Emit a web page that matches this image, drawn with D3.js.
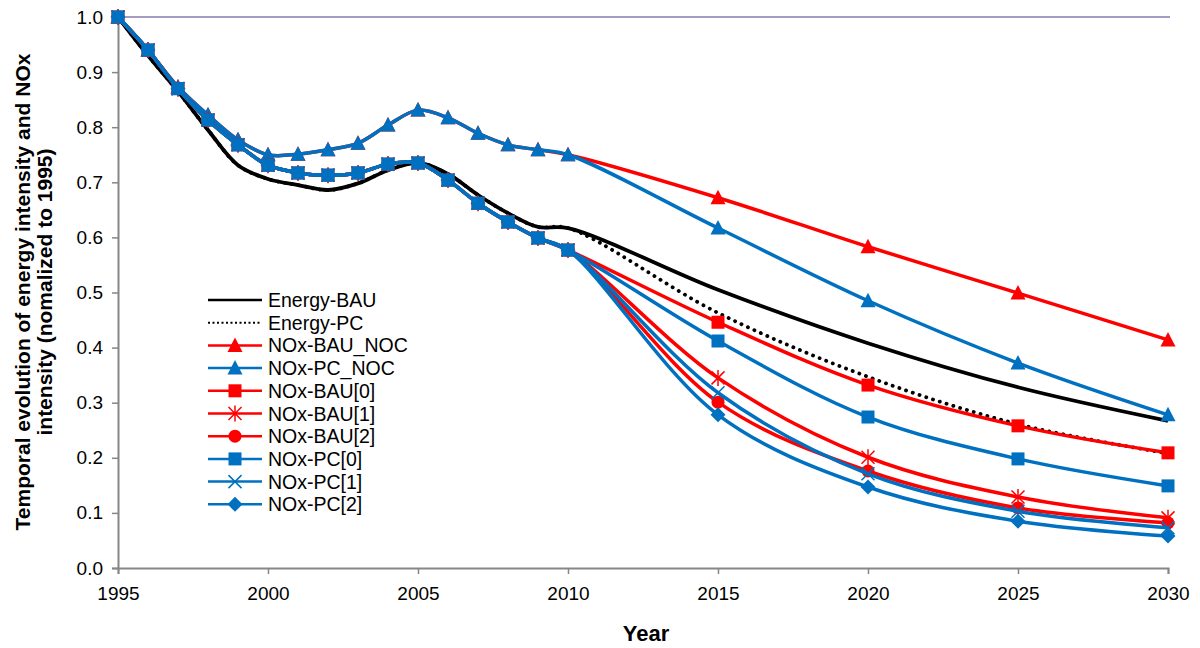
<!DOCTYPE html>
<html>
<head>
<meta charset="utf-8">
<script src="https://cdn.jsdelivr.net/npm/d3@7"></script>
<style>
  body { margin: 0; background: #fff; }
  svg { display: block; font-family: "Liberation Sans", Arial, sans-serif; }
</style>
</head>
<body>
<svg id="chart" width="1200" height="648"></svg>
<script>
// Years: annual 1995-2010, then five-year steps to 2030
const years = [1995,1996,1997,1998,1999,2000,2001,2002,2003,2004,2005,2006,2007,2008,2009,2010,2015,2020,2025,2030];

// Shared history 1995-2010
const energyHist = [1.0,0.93,0.865,0.795,0.731,0.706,0.695,0.686,0.698,0.722,0.735,0.715,0.677,0.644,0.619,0.617];
const nocHist    = [1.0,0.94,0.873,0.822,0.777,0.750,0.751,0.759,0.771,0.804,0.831,0.817,0.789,0.768,0.759,0.750];
const noxHist    = [1.0,0.94,0.870,0.813,0.768,0.731,0.717,0.713,0.717,0.733,0.735,0.704,0.662,0.628,0.599,0.577];

// Projections 2015-2030
const energyBAU  = energyHist.concat([0.505,0.408,0.328,0.267]);
const energyPC   = energyHist.concat([0.463,0.347,0.261,0.208]);
const noxBAU_NOC = nocHist.concat([0.672,0.583,0.499,0.414]);
const noxPC_NOC  = nocHist.concat([0.617,0.485,0.372,0.278]);
const noxBAU0    = noxHist.concat([0.446,0.332,0.258,0.209]);
const noxBAU1    = noxHist.concat([0.345,0.201,0.129,0.091]);
const noxBAU2    = noxHist.concat([0.301,0.176,0.109,0.082]);
const noxPC0     = noxHist.concat([0.412,0.274,0.198,0.149]);
const noxPC1     = noxHist.concat([0.318,0.171,0.103,0.073]);
const noxPC2     = noxHist.concat([0.278,0.147,0.085,0.058]);

const xTicks = [1995,2000,2005,2010,2015,2020,2025,2030];
const yTicks = [0,0.1,0.2,0.3,0.4,0.5,0.6,0.7,0.8,0.9,1.0];

const RED = "#ff0000", BLUE = "#0070c0";

const series = [
  {name:"Energy-BAU",  values:energyBAU,  color:"#000", marker:null, dash:null},
  {name:"Energy-PC",   values:energyPC,   color:"#000", marker:null, dash:"0.1 7"},
  {name:"NOx-BAU_NOC", values:noxBAU_NOC, color:RED,  marker:"triangle"},
  {name:"NOx-PC_NOC",  values:noxPC_NOC,  color:BLUE, marker:"triangle"},
  {name:"NOx-BAU[0]",  values:noxBAU0,    color:RED,  marker:"square"},
  {name:"NOx-BAU[1]",  values:noxBAU1,    color:RED,  marker:"star"},
  {name:"NOx-BAU[2]",  values:noxBAU2,    color:RED,  marker:"circle"},
  {name:"NOx-PC[0]",   values:noxPC0,     color:BLUE, marker:"square"},
  {name:"NOx-PC[1]",   values:noxPC1,     color:BLUE, marker:"x"},
  {name:"NOx-PC[2]",   values:noxPC2,     color:BLUE, marker:"diamond"}
];

const svg = d3.select("#chart");
const x = d3.scaleLinear().domain([1995,2030]).range([118,1168]);
const y = d3.scaleLinear().domain([0,1]).range([568,17]);

// Top border of plot area
svg.append("line").attr("x1",118).attr("x2",1170).attr("y1",y(1)).attr("y2",y(1))
  .attr("stroke","#a49cc2").attr("stroke-width",2);

// Axes
const xAxis = svg.append("g").attr("transform",`translate(0,${y(0)})`)
  .call(d3.axisBottom(x).tickValues(xTicks).tickFormat(d3.format("d")).tickSizeOuter(0).tickSize(6).tickPadding(13));
const yAxis = svg.append("g").attr("transform",`translate(${x(1995)},0)`)
  .call(d3.axisLeft(y).tickValues(yTicks).tickFormat(d3.format(".1f")).tickSizeOuter(0).tickSize(6).tickPadding(9));
[xAxis,yAxis].forEach(a => {
  a.select(".domain").attr("stroke","#868686").attr("stroke-width",2);
  a.selectAll(".tick line").attr("stroke","#868686").attr("stroke-width",1.5);
  a.selectAll(".tick text").attr("fill","#000").style("font-size","19px")
    .style("font-family","'Liberation Sans', Arial, sans-serif");
});

// Axis titles
svg.append("text").attr("x",646).attr("y",641).attr("text-anchor","middle")
  .style("font-size","22px").style("font-weight","bold").text("Year");
const yt = svg.append("text").attr("transform","translate(0,292) rotate(-90)")
  .attr("text-anchor","middle").style("font-size","21px").style("font-weight","bold");
yt.append("tspan").attr("x",0).attr("y",30).text("Temporal evolution of energy intensity and NOx");
yt.append("tspan").attr("x",0).attr("y",52).text("intensity (nomalized to 1995)");

// Marker drawing
function drawMarker(g, type, color, cx, cy) {
  const s = 7;
  if (type === "triangle") {
    g.append("path").attr("d",`M${cx},${cy-s-1}L${cx+s+0.5},${cy+s-0.5}L${cx-s-0.5},${cy+s-0.5}Z`).attr("fill",color);
  } else if (type === "square") {
    g.append("rect").attr("x",cx-6.5).attr("y",cy-6.5).attr("width",13).attr("height",13).attr("fill",color);
  } else if (type === "circle") {
    g.append("circle").attr("cx",cx).attr("cy",cy).attr("r",6.5).attr("fill",color);
  } else if (type === "diamond") {
    g.append("path").attr("d",`M${cx},${cy-7.5}L${cx+7.5},${cy}L${cx},${cy+7.5}L${cx-7.5},${cy}Z`).attr("fill",color);
  } else if (type === "x") {
    g.append("path").attr("d",`M${cx-6.5},${cy-6.5}L${cx+6.5},${cy+6.5}M${cx-6.5},${cy+6.5}L${cx+6.5},${cy-6.5}`)
      .attr("stroke",color).attr("stroke-width",1.5);
  } else if (type === "star") {
    g.append("path").attr("d",`M${cx-6.5},${cy-6.5}L${cx+6.5},${cy+6.5}M${cx-6.5},${cy+6.5}L${cx+6.5},${cy-6.5}M${cx},${cy-8}L${cx},${cy+8}`)
      .attr("stroke",color).attr("stroke-width",1.5);
  }
}

const line = d3.line().x((d,i) => x(years[i])).y(d => y(d)).curve(d3.curveCatmullRom.alpha(0.5));

const plot = svg.append("g");
series.forEach(s => {
  const g = plot.append("g");
  g.append("path").attr("d", line(s.values)).attr("fill","none")
    .attr("stroke", s.color).attr("stroke-width", s.marker ? 3.5 : 3.8)
    .attr("stroke-linecap", s.dash ? "round" : "butt")
    .attr("stroke-dasharray", s.dash);
  if (s.marker) s.values.forEach((v,i) => drawMarker(g, s.marker, s.color, x(years[i]), y(v)));
});

// Legend
const lg = svg.append("g");
series.forEach((s,i) => {
  const ly = 300 + i*22.7;
  lg.append("line").attr("x1",208).attr("x2",262).attr("y1",ly).attr("y2",ly)
    .attr("stroke",s.color).attr("stroke-width", s.dash ? 2 : 2.5)
    .attr("stroke-dasharray", s.dash ? "2 2.5" : null);
  if (s.marker) drawMarker(lg, s.marker, s.color, 235, ly);
  lg.append("text").attr("x",268).attr("y",ly+7).style("font-size","19.5px").text(s.name);
});
</script>
</body>
</html>
